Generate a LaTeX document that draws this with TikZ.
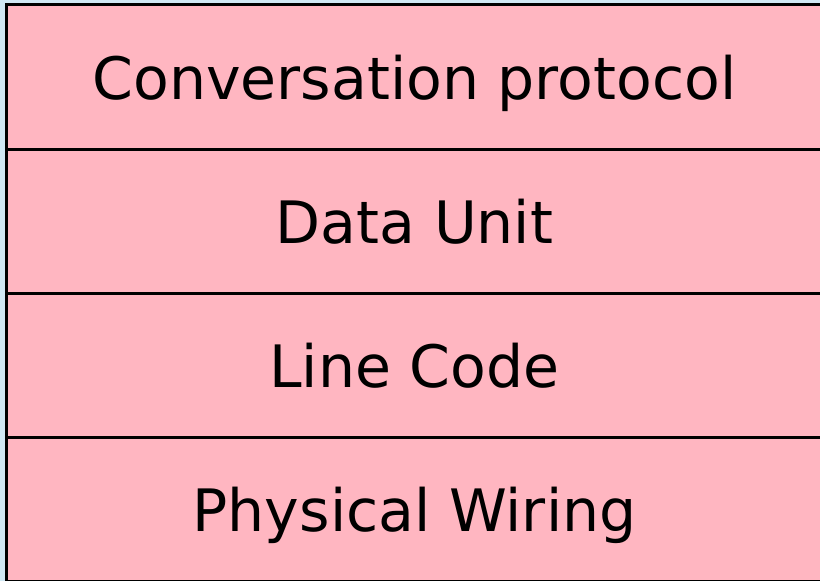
\documentclass[tikz,border=0pt]{standalone}
\usepackage{fontspec}
\setmainfont{DejaVu Sans}
\definecolor{bgblue}{RGB}{208,232,244}
\definecolor{layerpink}{RGB}{255,182,193}
\begin{document}
\begin{tikzpicture}[x=1bp,y=-1bp,
  layer/.style={draw=black,line width=3bp,fill=layerpink,minimum width=816bp,minimum height=144bp,inner sep=0pt,outer sep=0pt,text depth=0pt,font=\fontsize{58.7}{62}\selectfont,anchor=north west}]
\fill[bgblue] (0,0) rectangle (820,581);
\useasboundingbox (0,0) rectangle (820,581);
\node[layer] (l1) at (6.5,5) {Conversation protocol};
\node[layer] (l2) at (l1.south west) {Data Unit};
\node[layer] (l3) at (l2.south west) {Line Code};
\node[layer] (l4) at (l3.south west) {Physical Wiring};
\end{tikzpicture}
\end{document}
